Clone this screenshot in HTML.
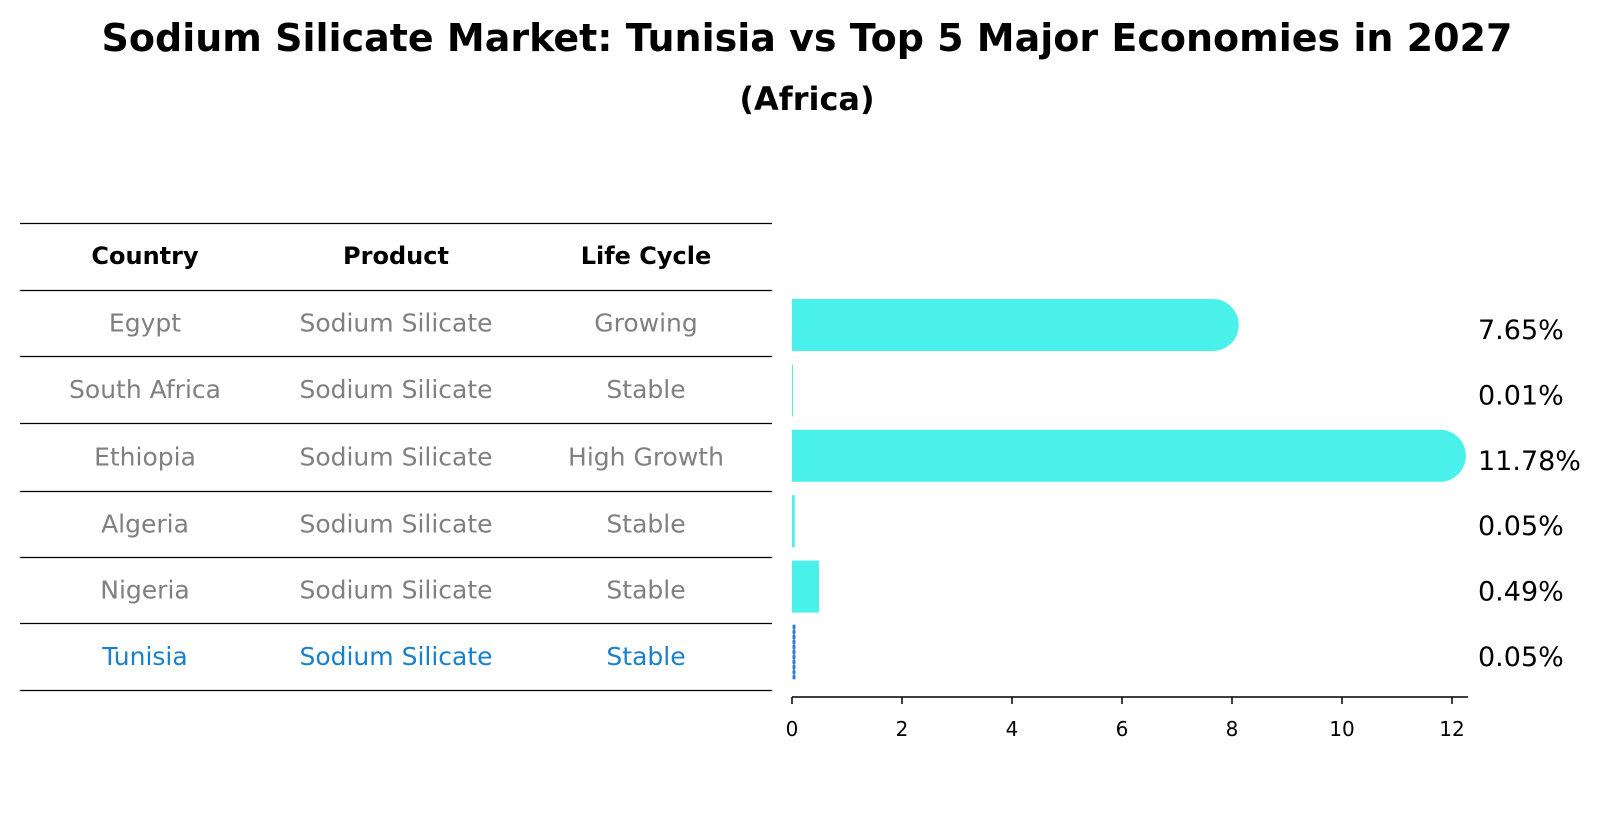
<!DOCTYPE html>
<html><head><meta charset="utf-8"><style>
body{margin:0;background:#fff;font-family:"Liberation Sans","DejaVu Sans",sans-serif}
svg text{font-family:"DejaVu Sans","Liberation Sans",sans-serif}
</style></head><body>
<svg id="c" width="1604" height="823" xmlns="http://www.w3.org/2000/svg">
<text x="807" y="51" text-anchor="middle" font-size="38" font-weight="bold">Sodium Silicate Market: Tunisia vs Top 5 Major Economies in 2027</text>
<text x="807" y="110" text-anchor="middle" font-size="32" font-weight="bold">(Africa)</text>
<g id="tbl"></g>
<g id="bars"></g>
</svg>
<script>
const countries=["Egypt","South Africa","Ethiopia","Algeria","Nigeria","Tunisia"];
const products=["Sodium Silicate","Sodium Silicate","Sodium Silicate","Sodium Silicate","Sodium Silicate","Sodium Silicate"];
const lifecycles=["Growing","Stable","High Growth","Stable","Stable","Stable"];
const values=[7.65,0.01,11.78,0.05,0.49,0.05];
const ticks=[0,2,4,6,8,10,12];
const NS="http://www.w3.org/2000/svg";
function mk(tag,attrs,parent,txt){const e=document.createElementNS(NS,tag);for(const k in attrs)e.setAttribute(k,attrs[k]);if(txt!==undefined)e.textContent=txt;parent.appendChild(e);return e;}
const tbl=document.getElementById('tbl'),bars=document.getElementById('bars');
const lineY=[223.5,290.5,356.5,423.5,491.5,557.5,623.5,690.5];
const colX=[145,396,646];
lineY.forEach((y,i)=>{const l=mk('line',{x1:20,x2:772,y1:y,y2:y,stroke:'#000','stroke-width':1.2},tbl);

});
["Country","Product","Life Cycle"].forEach((h,i)=>{const t=mk('text',{x:colX[i],y:264,'text-anchor':'middle','font-size':24,'font-weight':'bold'},tbl,h);

});
const xs=v=>792+v*55;
const rowC=i=>325+i*65.4;
countries.forEach((c,i)=>{
 const y=(lineY[i+1]+lineY[i+2])/2+8;
 const col=i===5?'#1a80cc':'#808080';
 [c,products[i],lifecycles[i]].forEach((s,j)=>{const t=mk('text',{x:colX[j],y:y,'text-anchor':'middle','font-size':25,fill:col},tbl,s);
 
 });
 const cy=rowC(i),h=52,w=values[i]*55;
 let b;
 if(i===5){
  b=mk('line',{x1:xs(0)+2,x2:xs(0)+2,y1:cy-26,y2:cy+26,stroke:'#2a7fd4','stroke-width':3,'stroke-dasharray':'2 3','stroke-linecap':'round'},bars);
 } else if(values[i]>1){
  b=mk('path',{d:`M${xs(0)},${cy-26}H${xs(values[i])}A26,26 0 0 1 ${xs(values[i])},${cy+26}H${xs(0)}Z`,fill:'#4af0ea'},bars);
 } else {
  b=mk('rect',{x:xs(0),y:cy-26,width:Math.max(w,1),height:h,fill:'#4af0ea'},bars);
 }
 
 
 const lb=mk('text',{x:1478,y:cy+14,'font-size':27},bars,values[i].toFixed(2)+'%');
 
 
});
const ax=mk('line',{x1:xs(0),x2:1468,y1:697,y2:697,stroke:'#000','stroke-width':1.5},bars);


ticks.forEach(t=>{const tk=mk('line',{x1:xs(t),x2:xs(t),y1:697,y2:704,stroke:'#000','stroke-width':1.5},bars);


const tl=mk('text',{x:xs(t),y:736,'text-anchor':'middle','font-size':20},bars,String(t));

});
</script>
</body></html>
